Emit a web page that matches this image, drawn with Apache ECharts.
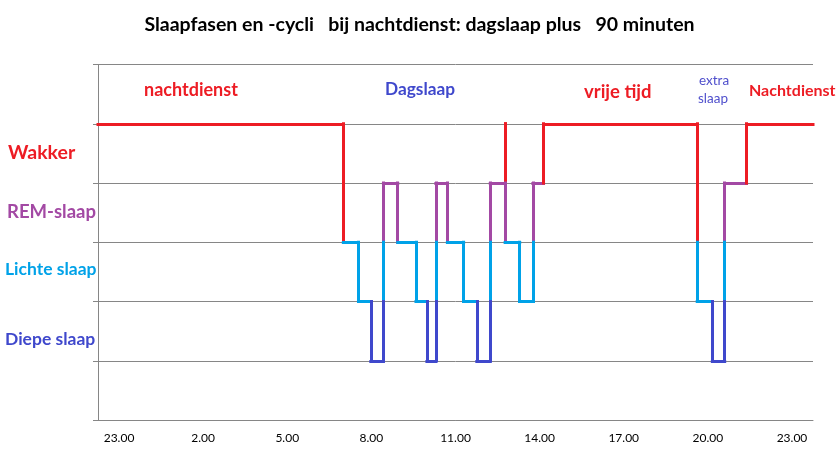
<!DOCTYPE html>
<html>
<head>
<meta charset="utf-8">
<script src="https://cdn.jsdelivr.net/npm/echarts@6/dist/echarts.min.js"></script>
<style>
  html, body { margin: 0; padding: 0; background: #fff; }
  #chart { width: 839px; height: 460px; }
</style>
</head>
<body>
<div id="chart"></div>
<script>
// tijdas: categorieen van 1,5 uur, label bij elke tweede
const tickLabels = ['23.00', '2.00', '5.00', '8.00', '11.00', '14.00', '17.00', '20.00', '23.00']

// slaapfasen: 5 = wakker, 4 = REM, 3 en 2 = lichte slaap, 1 = diepe slaap
// uren doorgeteld na middernacht (31 = 7.00 volgende dag)
const stepTimes = [22.25, 31.0, 31.54, 31.98, 32.43, 32.94, 33.59, 33.98, 34.30, 34.71,
  35.29, 35.76, 36.24, 36.77, 36.77, 36.77, 37.29, 37.76, 38.14, 43.62, 44.16, 44.60, 45.38, 47.75]
const stepStages = [5, 3, 2, 1, 4, 3, 2, 1, 4, 3,
  2, 1, 4, 5, 4, 3, 2, 4, 5, 2, 1, 4, 5, 5]

const stageNames = ['Wakker', 'REM-slaap', 'Lichte slaap', 'Diepe slaap']

const RED = '#ed1c24'
const PURPLE = '#a349a4'
const LIGHT = '#00a2e8'
const DARK = '#3f48cc'
const GRID = '#868686'

// kleur van een horizontaal stuk per niveau
function levelColor(s) {
  if (s >= 5) return RED
  if (s === 4) return PURPLE
  if (s === 1) return DARK
  return LIGHT
}
// kleur van een verticaal stuk tussen niveau b en b+1
function bandColor(b) {
  if (b >= 4) return RED
  if (b === 3) return PURPLE
  if (b === 2) return LIGHT
  return DARK
}

const segments = []
for (let i = 0; i < stepTimes.length - 1; i++) {
  const s = stepStages[i]
  const t0 = stepTimes[i]
  const t1 = stepTimes[i + 1]
  if (t1 > t0) {
    segments.push({ coords: [[t0, s], [t1, s]], lineStyle: { color: levelColor(s) } })
  }
  const n = stepStages[i + 1]
  if (n !== s) {
    const hi = Math.max(s, n)
    const lo = Math.min(s, n)
    let top = hi
    if (hi === 5) {
      // val uit wakker: rood tot lichte slaap
      const redLo = Math.max(lo, 3)
      segments.push({ coords: [[t1, 5], [t1, redLo]], lineStyle: { color: RED } })
      top = redLo
    }
    for (let b = top - 1; b >= lo; b--) {
      segments.push({ coords: [[t1, b + 1], [t1, b]], lineStyle: { color: bandColor(b) } })
    }
  }
}

const categories = []
tickLabels.forEach((l, i) => {
  categories.push(l)
  if (i < tickLabels.length - 1) categories.push(' ')
})

const FONT = 'Lato, "Open Sans", sans-serif'

function txt(x, y, text, color, size, weight) {
  return {
    type: 'text', x: x, y: y,
    style: {
      text: text, fill: color, verticalAlign: 'middle',
      font: (weight || 'bold') + ' ' + size + 'px ' + FONT
    }
  }
}

const chart = echarts.init(document.getElementById('chart'))
chart.setOption({
  animation: false,
  title: {
    text: 'Slaapfasen en -cycli   bij nachtdienst: dagslaap plus   90 minuten',
    left: 'center',
    top: 10,
    textStyle: { fontFamily: FONT, fontSize: 19.5, fontWeight: 'bold', color: '#000' }
  },
  grid: { left: 98, right: 26, top: 64.5, bottom: 40 },
  xAxis: [
    {
      type: 'category',
      data: categories,
      boundaryGap: true,
      axisLine: { lineStyle: { color: GRID, width: 1 } },
      axisTick: { interval: 0, length: 4, lineStyle: { color: GRID } },
      axisLabel: { interval: 1, margin: 12, fontSize: 12, color: '#000', fontFamily: FONT },
      splitLine: { show: false }
    },
    {
      type: 'value',
      min: 22.25,
      max: 47.75,
      show: false
    }
  ],
  yAxis: {
    type: 'value',
    min: 0,
    max: 6,
    interval: 1,
    axisLine: { show: true, lineStyle: { color: GRID } },
    axisTick: { show: true, length: 5, lineStyle: { color: GRID } },
    axisLabel: { show: false },
    splitLine: { lineStyle: { color: GRID, width: 1 } }
  },
  graphic: [
    txt(8, 153, stageNames[0], RED, 19.5),
    txt(7, 212, stageNames[1], PURPLE, 18.5),
    txt(5, 269, stageNames[2], LIGHT, 17.5),
    txt(5, 339, stageNames[3], DARK, 17.5),
    txt(144, 90, 'nachtdienst', RED, 18),
    txt(385, 89, 'Dagslaap', DARK, 17.3),
    txt(584, 92, 'vrije tijd', RED, 18.5),
    txt(699, 81, 'extra', '#4f4fcc', 13.5, 'normal'),
    txt(698, 99, 'slaap', '#4f4fcc', 13.5, 'normal'),
    txt(749, 91, 'Nachtdienst', RED, 16)
  ],
  series: [
    {
      type: 'lines',
      coordinateSystem: 'cartesian2d',
      xAxisIndex: 1,
      yAxisIndex: 0,
      polyline: false,
      silent: true,
      lineStyle: { width: 3, opacity: 1, cap: 'square' },
      data: segments
    }
  ]
})
</script>
</body>
</html>
